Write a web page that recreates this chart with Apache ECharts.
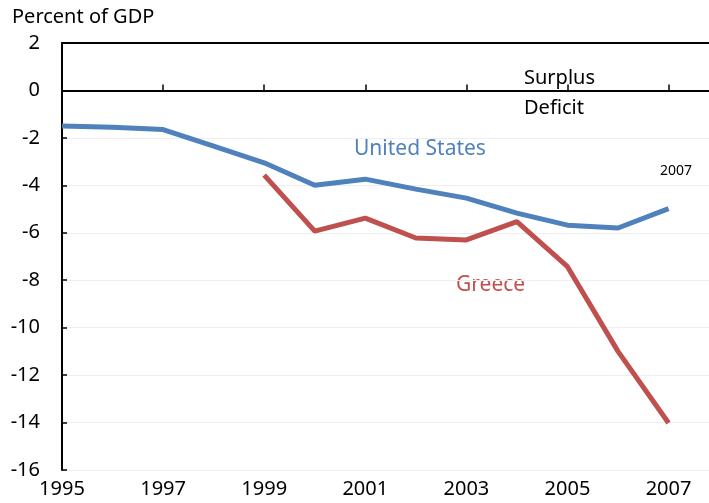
<!DOCTYPE html>
<html>
<head>
<meta charset="utf-8">
<script src="https://cdn.jsdelivr.net/npm/echarts@6/dist/echarts.min.js"></script>
<style>
  html, body { margin: 0; padding: 0; background: #fff; }
  #chart { width: 709px; height: 503px; }
</style>
</head>
<body>
<div id="chart"></div>
<script>
// budget balance, percent of GDP
const years = [1995, 1996, 1997, 1998, 1999, 2000, 2001, 2002, 2003, 2004, 2005, 2006, 2007]
const usBalance = [-1.5, -1.55, -1.65, -2.35, -3.05, -4.0, -3.74, -4.16, -4.54, -5.17, -5.68, -5.8, -4.98]
const greeceYears = [1999, 2000, 2001, 2002, 2003, 2004, 2005, 2006, 2007]
const greeceBalance = [-3.57, -5.93, -5.38, -6.22, -6.3, -5.53, -7.43, -11.0, -14.02]

const font = 'Noto Sans'
const blue = '#4F81BD'
const red = '#C0504D'

const chart = echarts.init(document.getElementById('chart'))

chart.setOption({
  animation: false,
  textStyle: { fontFamily: font },
  grid: { left: 62, top: 43, right: 0, bottom: 33 },
  xAxis: [
    {
      type: 'value',
      min: 1995,
      max: 2007.8,
      interval: 2,
      axisLine: { lineStyle: { color: '#000', width: 2 } },
      axisTick: { inside: true, length: 6, lineStyle: { color: '#000', width: 1.5 } },
      axisLabel: { color: '#000', fontSize: 20, margin: 9, showMaxLabel: false, formatter: v => String(v) },
      splitLine: { show: false }
    },
    {
      type: 'value',
      position: 'top',
      min: 1995,
      max: 2007.8,
      axisLine: { show: true, lineStyle: { color: '#000', width: 2 } },
      axisTick: { show: false },
      axisLabel: { show: false },
      splitLine: { show: false }
    }
  ],
  yAxis: {
    type: 'value',
    min: -16,
    max: 2,
    interval: 2,
    axisLine: { show: true, lineStyle: { color: '#000', width: 2 } },
    axisTick: { show: true, inside: true, length: 5, lineStyle: { color: '#000', width: 1.5 } },
    axisLabel: { color: '#000', fontSize: 20, margin: 22 },
    splitLine: { lineStyle: { color: '#eeeeee', width: 1 } }
  },
  graphic: [
    { type: 'text', left: 12, top: 7, style: { text: 'Percent of GDP', font: '20px "Noto Sans"', fill: '#000' } },
    { type: 'text', left: 524, top: 68, style: { text: 'Surplus', font: '20px "Noto Sans"', fill: '#000' } },
    { type: 'text', left: 524, top: 98, style: { text: 'Deficit', font: '20px "Noto Sans"', fill: '#000' } },
    { type: 'text', left: 354, top: 139, style: { text: 'United States', font: '21px "Noto Sans"', fill: blue } },
    { type: 'text', left: 456, top: 275, style: { text: 'Greece', font: '21px "Noto Sans"', fill: red } },
    { type: 'text', left: 660, top: 164, style: { text: '2007', font: '14px "Noto Sans"', fill: '#000' } }
  ],
  series: [
    {
      name: 'United States',
      type: 'line',
      data: years.map((y, i) => [y, usBalance[i]]),
      symbol: 'none',
      lineStyle: { color: blue, width: 5 },
      markLine: {
        silent: true,
        symbol: 'none',
        label: { show: false },
        lineStyle: { color: '#000', width: 2, type: 'solid' },
        data: [{ yAxis: 0 }]
      }
    },
    {
      name: 'Greece',
      type: 'line',
      data: greeceYears.map((y, i) => [y, greeceBalance[i]]),
      symbol: 'none',
      lineStyle: { color: red, width: 5 }
    }
  ]
})
</script>
</body>
</html>
